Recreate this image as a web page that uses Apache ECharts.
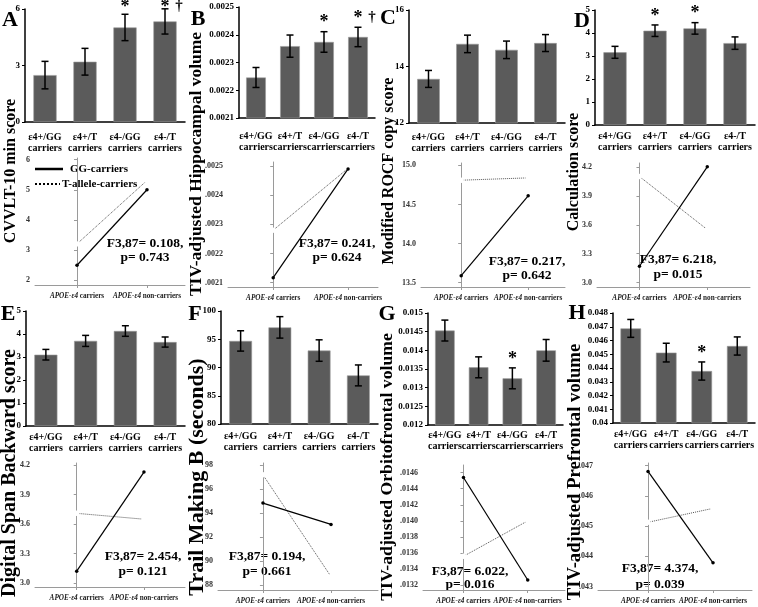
<!DOCTYPE html>
<html><head><meta charset="utf-8">
<script src="https://cdn.jsdelivr.net/npm/echarts@6/dist/echarts.min.js"></script>
<style>html,body{margin:0;padding:0;background:#fff}#c{width:758px;height:607px}</style>
</head><body><div id="c"></div>
<script>
// ---------------- DATA ----------------
const barCategories = ['ε4+/GG\ncarriers','ε4+/T\ncarriers','ε4-/GG\ncarriers','ε4-/T\ncarriers'];
const lineCategories = ['APOE-ε4 carriers','APOE-ε4 non-carriers'];
const seriesNames = ['GG-carriers','T-allele-carriers'];

const barA=[2.49,3.20,5.02,5.34];            const errA=[0.73,0.71,0.70,0.67];            const starsA=['','','*','*†'];
const barB=[0.002246,0.002359,0.002374,0.002392]; const errB=[0.000036,0.000040,0.000037,0.000035]; const starsB=['','','*','*†'];
const barC=[13.56,14.80,14.59,14.83];        const errC=[0.30,0.31,0.31,0.30];            const starsC=['','','',''];
const barD=[3.16,4.10,4.20,3.56];            const errD=[0.26,0.25,0.25,0.27];            const starsD=['','*','*',''];
const barE=[3.10,3.70,4.13,3.65];            const errE=[0.23,0.24,0.23,0.22];            const starsE=['','','',''];
const barF=[94.7,97.1,93.0,88.6];            const errF=[1.8,1.9,1.9,1.85];               const starsF=['','','',''];
const barG=[0.01453,0.013545,0.01325,0.0140]; const errG=[0.00028,0.00028,0.00028,0.00029]; const starsG=['','','*',''];
const barH=[0.04688,0.04512,0.04378,0.0456]; const errH=[0.00065,0.00068,0.00066,0.00066]; const starsH=['','','*',''];

const ggA=[2.49,5.00];        const tA=[3.20,5.31];
const ggB=[0.002117,0.00249]; const tB=[0.00228,0.002492];
const ggC=[13.59,14.61];      const tC=[14.81,14.84];
const ggD=[3.17,4.20];        const tD=[4.10,3.55];
const ggE=[3.12,4.13];        const tE=[3.71,3.65];
const ggF=[94.84,93.06];      const tF=[97.2,88.7];
const ggG=[0.01454,0.013263]; const tG=[0.013558,0.0140];
const ggH=[0.04681,0.04379];  const tH=[0.04513,0.04559];

const barTicksA=[0,3,6];
const barTicksB=[0.0021,0.0022,0.0023,0.0024,0.0025];
const barTicksC=[12,14,16];
const barTicksD=[0,1,2,3,4,5];
const barTicksE=[0,1,2,3,4,5];
const barTicksF=[80,85,90,95,100];
const barTicksG=[0.012,0.0125,0.013,0.0135,0.014,0.0145,0.015];
const barTicksH=[0.04,0.041,0.042,0.043,0.044,0.045,0.046,0.047,0.048];

const lineTicksA=[2,3,4,5,6];
const lineTicksB=[0.0021,0.0022,0.0023,0.0024,0.0025];
const lineTicksC=[13.5,14.0,14.5,15.0];
const lineTicksD=[3.0,3.3,3.6,3.9,4.2];
const lineTicksE=[3.0,3.3,3.6,3.9,4.2];
const lineTicksF=[88,90,92,94,96,98];
const lineTicksG=[0.0132,0.0134,0.0136,0.0138,0.0140,0.0142,0.0144,0.0146];
const lineTicksH=[0.043,0.044,0.045,0.046,0.047];

const panelLetters=['A','B','C','D','E','F','G','H'];
const yTitles=['CVVLT-10 min score','TIV-adjusted Hippocampal volume','Modified ROCF copy score','Calculation score',
  'Digital Span Backward score','Trail Making B (seconds)','TIV-adjusted Orbitofrontal volume','TIV-adjusted Prefrontal volume'];
const statF=['F3,87= 0.108,','F3,87= 0.241,','F3,87= 0.217,','F3,87= 6.218,','F3,87= 2.454,','F3,87= 0.194,','F3,87= 6.022,','F3,87= 4.374,'];
const statP=['p= 0.743','p= 0.624','p= 0.642','p= 0.015','p= 0.121','p= 0.661','p= 0.016','p= 0.039'];

// ---------------- LAYOUT ----------------
const FONT='"Liberation Serif","Times New Roman",serif';
const plain=v=>String(+v.toFixed(4));
const noLead=d=>v=>v.toFixed(d).replace(/^0/,'');
const oneDec=v=>v.toFixed(1);
const P=[
 {bar:barA,err:errA,stars:starsA,bt:barTicksA,bmin:0,bmax:6,bfmt:plain,bg:[25,9,185,122],bm:9.5,
  gg:ggA,tt:tA,lt:lineTicksA,lmin:1.833,lmax:6.056,lfmt:v=>String(v),lx:[-0.6,1.543],lg:[35,158,185,285],
  tfs:16,tpos:[11,171],let:[10,20],stat:[145,244,258]},
 {bar:barB,err:errB,stars:starsB,bt:barTicksB,bmin:0.0021,bmax:0.0025,bfmt:v=>v.toFixed(4),bg:[239,7,375,118],bm:13,
  gg:ggB,tt:tB,lt:lineTicksB,lmin:0.002085,lmax:0.0025137,lfmt:noLead(4),lx:[-0.604,1.4],lg:[228,162,378,287],
  tfs:17.5,tpos:[196,164],let:[198,19],stat:[337,244,258]},
 {bar:barC,err:errC,stars:starsC,bt:barTicksC,bmin:12,bmax:16,bfmt:plain,bg:[409,10,565,123],bm:8.5,
  gg:ggC,tt:tC,lt:lineTicksC,lmin:13.445,lmax:15.03,lfmt:oneDec,lx:[-0.6,1.55],lg:[421,163,565,287],
  tfs:16,tpos:[389,171],let:[388,18],stat:[527,262,276]},
 {bar:barD,err:errD,stars:starsD,bt:barTicksD,bmin:0,bmax:5,bfmt:plain,bg:[595,10,755,125],bm:6,
  gg:ggD,tt:tD,lt:lineTicksD,lmin:2.955,lmax:4.24,lfmt:oneDec,lx:[-0.626,1.63],lg:[597,163,750,287],
  tfs:16,tpos:[574,172],let:[582,21],stat:[678,260,275],seriesLabels:true},
 {bar:barE,err:errE,stars:starsE,bt:barTicksE,bmin:0,bmax:5,bfmt:plain,bg:[26,311,185,426],bm:5.5,
  gg:ggE,tt:tE,lt:lineTicksE,lmin:2.959,lmax:4.223,lfmt:oneDec,lx:[-0.62,1.61],lg:[35,463,185,587],
  tfs:20,tpos:[10,473],let:[8,314],stat:[143,557,572]},
 {bar:barF,err:errF,stars:starsF,bt:barTicksF,bmin:80,bmax:100,bfmt:plain,bg:[221,311,378,424],bm:7,
  gg:ggF,tt:tF,lt:lineTicksF,lmin:87.58,lmax:98.19,lfmt:v=>String(v),lx:[-0.66,1.69],lg:[218,463,378,590],
  tfs:22,tpos:[197,477],let:[195,314],stat:[267,557,572]},
 {bar:barG,err:errG,stars:starsG,bt:barTicksG,bmin:0.012,bmax:0.015,bfmt:plain,bg:[428,313,563,425],bm:4.5,
  gg:ggG,tt:tG,lt:lineTicksG,lmin:0.013138,lmax:0.014696,lfmt:noLead(4),lx:[-0.63,1.58],lg:[423,465,565,590],
  tfs:17.7,tpos:[387,467],let:[387,314],stat:[470,572,585]},
 {bar:barH,err:errH,stars:starsH,bt:barTicksH,bmin:0.04,bmax:0.048,bfmt:plain,bg:[613,313,755,423],bm:6,
  gg:ggH,tt:tH,lt:lineTicksH,lmin:0.04289,lmax:0.04709,lfmt:noLead(3),lx:[-0.77,1.6],lg:[598,463,752,590],
  tfs:18.7,tpos:[575,472],let:[577,313],stat:[660,569,585]}
];

const grid=[],xAxis=[],yAxis=[],series=[],graphic=[];
const G=(r)=>({left:r[0],top:r[1],width:r[2]-r[0],height:r[3]-r[1]});
const lineLabel=v=>{const s=lineCategories[Math.round(v)];const k=s.indexOf(' ');return '{i|'+s.slice(0,k)+'}{n|'+s.slice(k)+'}';};
const lineRich={i:{fontFamily:FONT,fontStyle:'italic',fontWeight:'bold',fontSize:7.2,color:'#222'},
                n:{fontFamily:FONT,fontWeight:'bold',fontSize:7.2,color:'#222'}};
const yLabStyle={margin:5,fontFamily:FONT,fontWeight:'bold',fontSize:8,color:'#333'};

P.forEach((p,i)=>{
  // ---- bar panel ----
  const gi=grid.length;
  grid.push(G(p.bg));
  const bx=xAxis.length, by=yAxis.length;
  xAxis.push({gridIndex:gi,type:'category',data:barCategories,
    axisLine:{lineStyle:{color:'#000',width:1.5}},axisTick:{show:false},
    axisLabel:{interval:0,hideOverlap:false,margin:p.bm,fontFamily:FONT,fontWeight:'bold',fontSize:10,lineHeight:11,color:'#000'}});
  yAxis.push({gridIndex:gi,type:'value',min:p.bmin,max:p.bmax,splitLine:{show:false},
    axisLine:{show:true,lineStyle:{color:'#000',width:1.5}},
    axisTick:{show:true,length:3,customValues:p.bt,lineStyle:{color:'#000',width:1}},
    axisLabel:{customValues:p.bt,hideOverlap:false,formatter:p.bfmt,margin:5,fontFamily:FONT,fontWeight:'bold',fontSize:9,color:'#000'}});
  series.push({type:'bar',xAxisIndex:bx,yAxisIndex:by,data:p.bar,barCategoryGap:'42%',
    itemStyle:{color:'#5b5b5b',borderColor:'#9a9a9a',borderWidth:0.6},silent:true});
  series.push({type:'custom',xAxisIndex:bx,yAxisIndex:by,silent:true,z:5,clip:false,
    data:p.bar.map((v,k)=>[k,v-p.err[k],v+p.err[k]]),encode:{x:0,y:[1,2]},
    renderItem:(params,api)=>{
      const x=api.value(0);const lo=api.coord([x,api.value(1)]);const hi=api.coord([x,api.value(2)]);const hw=3.5;
      const st={stroke:'#000',lineWidth:1.5};
      return {type:'group',children:[
        {type:'line',shape:{x1:lo[0],y1:lo[1],x2:hi[0],y2:hi[1]},style:st},
        {type:'line',shape:{x1:lo[0]-hw,y1:lo[1],x2:lo[0]+hw,y2:lo[1]},style:st},
        {type:'line',shape:{x1:hi[0]-hw,y1:hi[1],x2:hi[0]+hw,y2:hi[1]},style:st}]};
    }});
  series.push({type:'custom',xAxisIndex:bx,yAxisIndex:by,silent:true,z:6,clip:false,
    data:p.bar.map((v,k)=>[k,v+p.err[k]]),encode:{x:0,y:1},
    renderItem:(params,api)=>{
      const s=p.stars[params.dataIndex];
      if(!s) return null;
      const c=api.coord([api.value(0),api.value(1)]);
      const y=Math.max(c[1]-9,7);
      const kids=[{type:'text',x:c[0],y:y,style:{text:'*',fontFamily:FONT,fontWeight:'bold',fontSize:18,fill:'#000',align:'center',verticalAlign:'middle'}}];
      if(s.indexOf('†')>=0) kids.push({type:'text',x:c[0]+14,y:y-1,style:{text:'†',fontFamily:FONT,fontWeight:'bold',fontSize:15,fill:'#000',align:'center',verticalAlign:'middle'}});
      return {type:'group',children:kids};
    }});

  // ---- interaction line panel ----
  const gl=grid.length;
  grid.push(G(p.lg));
  const lx=xAxis.length, ly=yAxis.length;
  xAxis.push({gridIndex:gl,type:'value',position:'bottom',min:p.lx[0],max:p.lx[1],splitLine:{show:false},
    axisLine:{lineStyle:{color:'#9a9a9a',width:1}},
    axisTick:{show:true,customValues:[0,1],length:3,lineStyle:{color:'#9a9a9a'}},
    axisLabel:{customValues:[0],formatter:lineLabel,margin:8,rich:lineRich}});
  xAxis.push({gridIndex:gl,type:'value',position:'bottom',offset:0,min:p.lx[0],max:p.lx[1],splitLine:{show:false},
    axisLine:{show:false},axisTick:{show:false},
    axisLabel:{customValues:[1],formatter:lineLabel,margin:8,rich:lineRich}});
  const evenT=p.lt.filter((v,k)=>k%2===0), oddT=p.lt.filter((v,k)=>k%2===1);
  yAxis.push({gridIndex:gl,type:'value',position:'left',min:p.lmin,max:p.lmax,splitLine:{show:false},
    axisLine:{show:true,lineStyle:{color:'#9a9a9a',width:1}},
    axisTick:{show:true,customValues:p.lt,length:3,lineStyle:{color:'#9a9a9a'}},
    axisLabel:Object.assign({show:!p.seriesLabels,customValues:evenT,hideOverlap:false,formatter:p.lfmt},yLabStyle)});
  yAxis.push({gridIndex:gl,type:'value',position:'left',offset:0,min:p.lmin,max:p.lmax,splitLine:{show:false},
    axisLine:{show:false},axisTick:{show:false},
    axisLabel:Object.assign({show:!p.seriesLabels,customValues:oddT,hideOverlap:false,formatter:p.lfmt},yLabStyle)});
  series.push({type:'line',name:seriesNames[0],xAxisIndex:lx,yAxisIndex:ly,data:p.gg.map((v,k)=>[k,v]),
    lineStyle:{color:'#000',width:1.2},symbol:'circle',symbolSize:3.5,itemStyle:{color:'#000'},silent:true,z:4});
  series.push({type:'line',name:seriesNames[1],xAxisIndex:lx,yAxisIndex:ly,data:p.tt.map((v,k)=>[k,v]),
    lineStyle:{color:'#555',width:1,type:'dotted'},symbol:'emptyCircle',symbolSize:3.5,
    itemStyle:{color:'#fff',borderColor:'#777',borderWidth:1},silent:true,z:3});
  if(p.seriesLabels){
    // tick labels placed through the y scale of this panel (value -> pixel by the library)
    series.push({type:'custom',xAxisIndex:lx,yAxisIndex:ly,silent:true,clip:false,z:7,
      data:p.lt.map(v=>[p.lx[0],v]),encode:{x:0,y:1},
      renderItem:(params,api)=>{
        const c=api.coord([api.value(0),api.value(1)]);
        return {type:'text',x:c[0]-5,y:c[1],style:{text:p.lfmt(api.value(1)),fontFamily:FONT,fontWeight:'bold',fontSize:8,fill:'#333',align:'right',verticalAlign:'middle'}};
      }});
  }

  // ---- texts ----
  graphic.push({type:'text',x:p.let[0],y:p.let[1],style:{text:panelLetters[i],fontFamily:FONT,fontWeight:'bold',fontSize:22,fill:'#000',align:'center',verticalAlign:'middle'}});
  graphic.push({type:'text',x:p.tpos[0],y:p.tpos[1],rotation:Math.PI/2,style:{text:yTitles[i],fontFamily:FONT,fontWeight:'bold',fontSize:p.tfs,fill:'#000',align:'center',verticalAlign:'middle'}});
  graphic.push({type:'text',x:p.stat[0],y:p.stat[1],style:{text:statF[i],fontFamily:FONT,fontWeight:'bold',fontSize:13.5,fill:'#000',align:'center',verticalAlign:'middle'}});
  graphic.push({type:'text',x:p.stat[0],y:p.stat[2],style:{text:statP[i],fontFamily:FONT,fontWeight:'bold',fontSize:13.5,fill:'#000',align:'center',verticalAlign:'middle'}});
});

// legend (panel A interaction plot)
graphic.push({type:'line',shape:{x1:35,y1:169,x2:63,y2:169},style:{stroke:'#000',lineWidth:2.5}});
graphic.push({type:'text',x:70,y:169,style:{text:seriesNames[0],fontFamily:FONT,fontWeight:'bold',fontSize:11,fill:'#000',align:'left',verticalAlign:'middle'}});
graphic.push({type:'line',shape:{x1:35,y1:184,x2:60,y2:184},style:{stroke:'#000',lineWidth:2,lineDash:[2,2]}});
graphic.push({type:'text',x:62,y:184,style:{text:seriesNames[1],fontFamily:FONT,fontWeight:'bold',fontSize:11,fill:'#000',align:'left',verticalAlign:'middle'}});

const chart=echarts.init(document.getElementById('c'),null,{renderer:'canvas'});
chart.setOption({animation:false,backgroundColor:'#fff',grid,xAxis,yAxis,series,graphic});
</script></body></html>
